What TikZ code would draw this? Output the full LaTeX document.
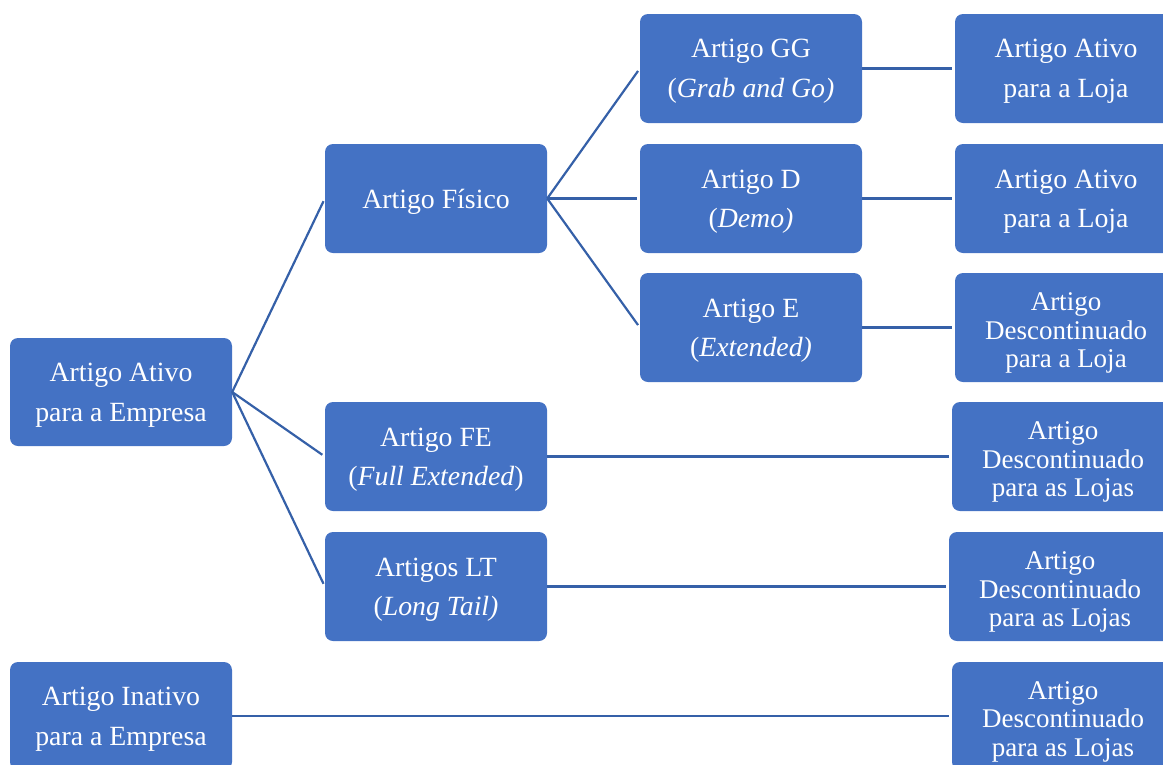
\documentclass[tikz,border=0pt]{standalone}
\usepackage{fontspec}
\setmainfont{Liberation Serif}
\definecolor{boxblue}{HTML}{4472C4}
\definecolor{linkblue}{HTML}{3560A8}

\begin{document}
\begin{tikzpicture}[x=1pt,y=-1pt,
  box/.style={fill=boxblue, rounded corners=8pt, minimum width=222pt,
    minimum height=109pt, inner sep=0pt},
  boxtext/.style={text=white, align=center, inner sep=0pt, yshift=-3pt,
    font=\fontsize{27.8}{39.5}\selectfont},
  tallboxtext/.style={boxtext, yshift=-2.5pt, font=\fontsize{27}{28.5}\selectfont},
  link/.style={draw=linkblue, line width=2.2pt, shorten >=3pt}]
\useasboundingbox (0,0) rectangle (1163,764);
\clip (0,0) rectangle (1163,764);

% company level
\node[box, minimum height=108pt, label={[boxtext]center:{Artigo Ativo\\para a Empresa}}] (ativo) at (121,392) {};
\node[box, minimum height=108pt, label={[boxtext]center:{Artigo Inativo\\para a Empresa}}] (inativo) at (121,716) {};

% article types
\node[box, label={[boxtext]center:{Artigo Físico}}] (fisico) at (436,198.5) {};
\node[box, label={[boxtext]center:{Artigo FE\\(\textit{Full Extended})}}] (fe) at (436,456.5) {};
\node[box, label={[boxtext]center:{Artigos LT\\(\textit{Long Tail)}}}] (lt) at (436,586.5) {};

% physical article subtypes
\node[box, label={[boxtext]center:{Artigo GG\\(\textit{Grab and Go)}}}] (gg) at (751,68.5) {};
\node[box, label={[boxtext]center:{Artigo D\\(\textit{Demo)}}}] (d) at (751,198.5) {};
\node[box, label={[boxtext]center:{Artigo E\\(\textit{Extended)}}}] (e) at (751,327.5) {};

% store status
\node[box, label={[boxtext]center:{Artigo Ativo\\para a Loja}}] (r1) at (1066,68.5) {};
\node[box, label={[boxtext]center:{Artigo Ativo\\para a Loja}}] (r2) at (1066,198.5) {};
\node[box, label={[tallboxtext]center:{Artigo\\Descontinuado\\para a Loja}}] (r3) at (1066,327.5) {};
\node[box, label={[tallboxtext]center:{Artigo\\Descontinuado\\para as Lojas}}] (r4) at (1063,456.5) {};
\node[box, label={[tallboxtext]center:{Artigo\\Descontinuado\\para as Lojas}}] (r5) at (1060,586.5) {};
\node[box, minimum height=108pt, label={[tallboxtext]center:{Artigo\\Descontinuado\\para as Lojas}}] (r6) at (1063,716) {};

% connectors
\draw[link] (ativo.east) -- (fisico.west);
\draw[link] (ativo.east) -- (fe.west);
\draw[link] (ativo.east) -- (lt.west);
\draw[link] (fisico.east) -- (gg.west);
\draw[link] (fisico.east) -- (d.west);
\draw[link] (fisico.east) -- (e.west);
\draw[link] (gg.east) -- (r1.west);
\draw[link] (d.east) -- (r2.west);
\draw[link] (e.east) -- (r3.west);
\draw[link] (fe.east) -- (r4.west);
\draw[link] (lt.east) -- (r5.west);
\draw[link] (inativo.east) -- (r6.west);
\end{tikzpicture}
\end{document}
